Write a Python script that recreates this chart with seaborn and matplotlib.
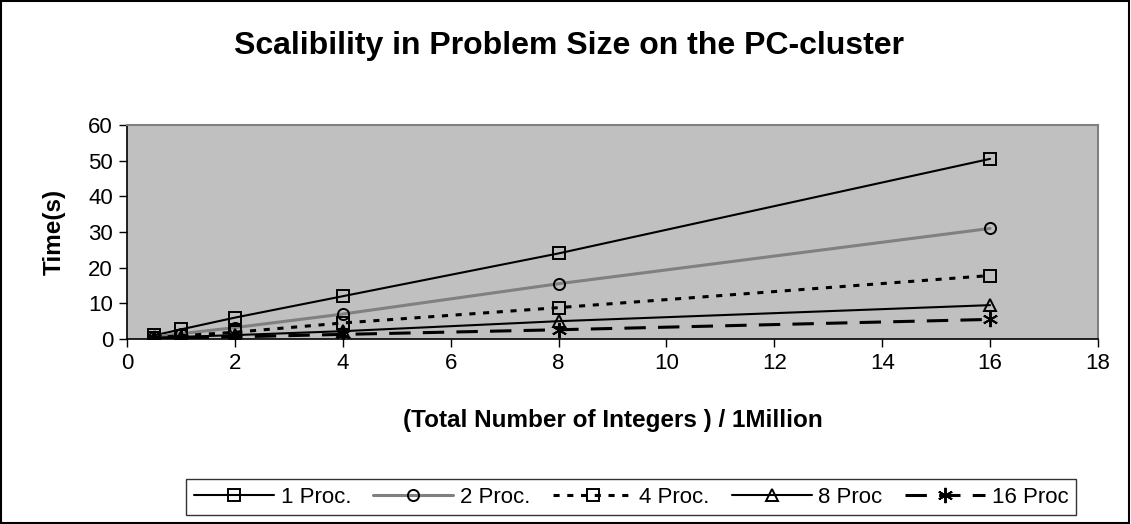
import matplotlib
matplotlib.use("Agg")
import matplotlib.pyplot as plt
import seaborn as sns
import pandas as pd
from matplotlib.patches import Rectangle

sns.set_theme(style="white")
plt.rcParams['font.family'] = ['Liberation Sans', 'DejaVu Sans']
plt.rcParams['text.color'] = 'black'
plt.rcParams['axes.labelcolor'] = 'black'
plt.rcParams['xtick.color'] = 'black'
plt.rcParams['ytick.color'] = 'black'

sizes = [0.5, 1, 2, 4, 8, 16]
proc1 = [1.0, 2.7, 6.0, 12.0, 24.0, 50.5]
proc2 = [0.6, 1.5, 3.2, 7.0, 15.5, 31.0]
proc4 = [0.4, 0.9, 1.9, 4.5, 8.8, 17.8]
proc8 = [0.3, 0.6, 1.1, 2.2, 5.0, 9.5]
proc16 = [0.2, 0.4, 0.6, 1.3, 2.6, 5.5]
labels = ["1 Proc.", "2 Proc.", "4 Proc.", "8 Proc", "16 Proc"]
series = [proc1, proc2, proc4, proc8, proc16]

styles = [
    dict(color="black", linestyle="-", lw=1.5, marker="s", ms=12),
    dict(color="#808080", linestyle="-", lw=2.2, marker="o", ms=12),
    dict(color="black", linestyle=(0, (2, 2.5)), lw=2.2, marker="s", ms=12),
    dict(color="black", linestyle="-", lw=1.5, marker="^", ms=12),
    dict(color="black", linestyle=(0, (7, 4)), lw=2.2, marker=(6, 2, 0), ms=16),
]

fig = plt.figure(figsize=(11.31, 5.24), dpi=100)
ax = fig.add_axes([0.1123, 0.353, 0.8585, 0.4085])
ax.set_facecolor("#C0C0C0")

for lab, vals, st in zip(labels, series, styles):
    df = pd.DataFrame({"x": sizes, "y": vals})
    sns.lineplot(data=df, x="x", y="y", ax=ax, color=st["color"],
                 linestyle=st["linestyle"], linewidth=st["lw"],
                 marker=st["marker"], markersize=st["ms"],
                 markerfacecolor="none", markeredgecolor="black",
                 markeredgewidth=1.4, label=lab, legend=False)

ax.set_xlim(0, 18)
ax.set_ylim(0, 60)
ax.set_xticks(range(0, 19, 2))
ax.set_yticks(range(0, 61, 10))
ax.tick_params(axis="both", labelsize=16, direction="out", length=6,
               width=1, color="black", left=True, bottom=True, pad=4)
for s in ["left", "bottom"]:
    ax.spines[s].set_color("black")
    ax.spines[s].set_linewidth(1.2)
for s in ["top", "right"]:
    ax.spines[s].set_color("#808080")
    ax.spines[s].set_linewidth(1.5)

ax.set_xlabel("(Total Number of Integers ) / 1Million", fontsize=17.5,
              fontweight="bold", labelpad=25)
ax.set_ylabel("Time(s)", fontsize=17.5, fontweight="bold", labelpad=16)

fig.suptitle("Scalibility in Problem Size on the PC-cluster", fontsize=23,
             fontweight="bold", x=0.503, y=0.94)

handles, labs = ax.get_legend_handles_labels()
for h in handles:
    h.set_markersize(8)
handles[-1].set_markersize(11)
leg = fig.legend(handles, labs, loc="center", bbox_to_anchor=(0.558, 0.0515),
                 ncol=5, fontsize=16, frameon=True, fancybox=False,
                 handlelength=3.6, columnspacing=1.0, handletextpad=0.3,
                 borderpad=0.35)
leg.get_frame().set_edgecolor("black")
leg.get_frame().set_linewidth(1.0)

fig.patches.append(Rectangle((0.001, 0.001), 0.997, 0.997,
                             transform=fig.transFigure, fill=False,
                             edgecolor="black", linewidth=1.5))

fig.savefig("out.png", dpi=100)
